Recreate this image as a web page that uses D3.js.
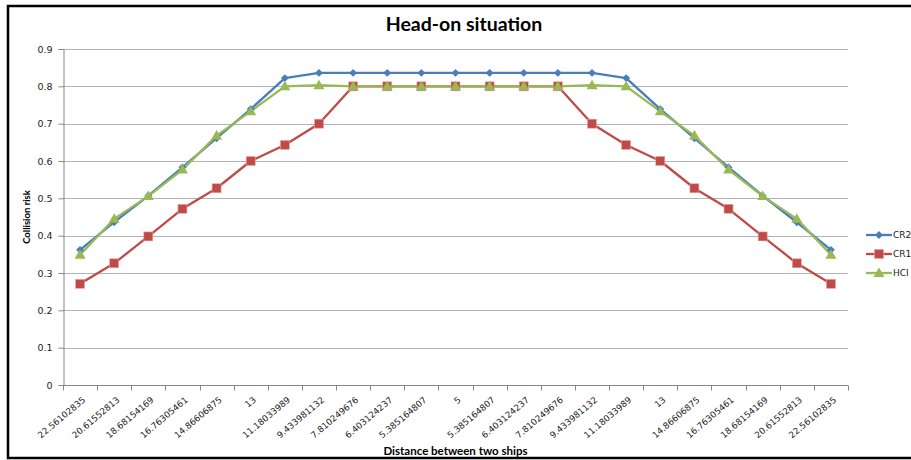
<!DOCTYPE html>
<html>
<head>
<meta charset="utf-8">
<script src="https://cdn.jsdelivr.net/npm/d3@7"></script>
<style>
  body { margin: 0; background: #fff; }
  svg { display: block; }
</style>
</head>
<body>
<svg id="chart"></svg>
<script>
const distances = ["22.56102835", "20.61552813", "18.68154169", "16.76305461", "14.86606875", "13",
  "11.18033989", "9.433981132", "7.810249676", "6.403124237", "5.385164807", "5",
  "5.385164807", "6.403124237", "7.810249676", "9.433981132", "11.18033989", "13",
  "14.86606875", "16.76305461", "18.68154169", "20.61552813", "22.56102835"];

const cr2 = [0.362, 0.436, 0.507, 0.583, 0.661, 0.739, 0.822, 0.836, 0.836, 0.836, 0.836, 0.836,
  0.836, 0.836, 0.836, 0.836, 0.822, 0.739, 0.661, 0.583, 0.507, 0.436, 0.362];
const cr1 = [0.271, 0.326, 0.398, 0.472, 0.527, 0.600, 0.643, 0.700, 0.800, 0.800, 0.800, 0.800,
  0.800, 0.800, 0.800, 0.700, 0.643, 0.600, 0.527, 0.472, 0.398, 0.326, 0.271];
const hci = [0.349, 0.445, 0.506, 0.577, 0.668, 0.733, 0.800, 0.803, 0.800, 0.800, 0.800, 0.800,
  0.800, 0.800, 0.800, 0.803, 0.800, 0.733, 0.668, 0.577, 0.506, 0.445, 0.349];
const yTicks = [0, 0.1, 0.2, 0.3, 0.4, 0.5, 0.6, 0.7, 0.8, 0.9];

const series = [
  { name: "CR2", values: cr2, color: "#4a7ebb", marker: "diamond" },
  { name: "CR1", values: cr1, color: "#be4b48", marker: "square" },
  { name: "HCI", values: hci, color: "#98b954", marker: "triangle" }
];

const width = 911, height = 460;
const plotL = 63, plotR = 848, plotT = 49, plotB = 385;

const svg = d3.select("svg#chart")
  .attr("width", width)
  .attr("height", height);

// outer frame (cut by the right edge)
svg.append("rect").attr("x", 8).attr("y", 6).attr("width", 930).attr("height", 452)
  .attr("fill", "none").attr("stroke", "#000").attr("stroke-width", 2.5);

const x = d3.scaleBand().domain(d3.range(distances.length)).range([plotL, plotR]);
const y = d3.scaleLinear().domain([0, 0.9]).range([plotB, plotT]);

// gridlines
svg.append("g")
  .selectAll("line").data(yTicks.filter(d => d > 0)).join("line")
  .attr("x1", plotL).attr("x2", plotR)
  .attr("y1", d => Math.round(y(d)) + 0.5).attr("y2", d => Math.round(y(d)) + 0.5)
  .attr("stroke", "#b3b3b3").attr("stroke-width", 1.2);

// y axis
const yAxis = svg.append("g").attr("transform", `translate(${plotL + 0.5},0)`)
  .call(d3.axisLeft(y).tickValues(yTicks).tickSize(5).tickPadding(6).tickFormat(d => d === 0 ? "0" : d3.format(".1f")(d)));
yAxis.select(".domain").attr("stroke", "#868686");
yAxis.selectAll(".tick line").attr("stroke", "#868686");
yAxis.selectAll(".tick text").attr("font-family", "DejaVu Sans").attr("font-size", 9.5).attr("fill", "#222");

// x axis: ticks on category boundaries
const xg = svg.append("g").attr("transform", `translate(0,${plotB + 0.5})`);
xg.append("line").attr("x1", plotL).attr("x2", plotR).attr("stroke", "#868686");
xg.selectAll("line.tk").data(d3.range(distances.length + 1)).join("line").attr("class", "tk")
  .attr("x1", i => Math.round(plotL + i * x.step()) + 0.5).attr("x2", i => Math.round(plotL + i * x.step()) + 0.5)
  .attr("y1", 0).attr("y2", 5).attr("stroke", "#868686");
xg.selectAll("text").data(distances).join("text")
  .attr("transform", (d, i) => `translate(${x(i) + x.bandwidth() / 2 + 4},${13}) rotate(-40)`)
  .attr("text-anchor", "end")
  .attr("dy", "0.35em")
  .attr("font-family", "DejaVu Sans").attr("font-size", 8.8).attr("fill", "#222")
  .text(d => d);

// lines and markers
const line = d3.line().x((d, i) => x(i) + x.bandwidth() / 2).y(d => y(d));

series.forEach(s => {
  svg.append("path").datum(s.values).attr("d", line)
    .attr("fill", "none").attr("stroke", s.color).attr("stroke-width", 2.3).attr("stroke-linejoin", "round");
});

function drawMarker(g, kind, color) {
  if (kind === "diamond") {
    g.append("path").attr("d", d3.symbol(d3.symbolDiamond2, 40)()).attr("fill", color);
  } else if (kind === "square") {
    g.append("rect").attr("x", -4.5).attr("y", -4.5).attr("width", 9).attr("height", 9)
      .attr("fill", color).attr("stroke", "#e8a8a6").attr("stroke-width", 0.6);
  } else {
    g.append("path").attr("d", "M0,-5.5L5.5,4L-5.5,4Z").attr("fill", color);
  }
}

series.forEach(s => {
  s.values.forEach((v, i) => {
    const g = svg.append("g").attr("transform", `translate(${x(i) + x.bandwidth() / 2},${y(v)})`);
    drawMarker(g, s.marker, s.color);
  });
});

// legend
const legend = svg.append("g").attr("transform", "translate(866,235)");
series.forEach((s, i) => {
  const g = legend.append("g").attr("transform", `translate(0,${i * 19})`);
  g.append("line").attr("x1", 0).attr("x2", 26).attr("stroke", s.color).attr("stroke-width", 2.3);
  const m = g.append("g").attr("transform", "translate(13,0)");
  drawMarker(m, s.marker, s.color);
  g.append("text").attr("x", 27).attr("dy", "0.35em")
    .attr("font-family", "DejaVu Sans").attr("font-size", 9).attr("fill", "#222").text(s.name);
});

// titles
svg.append("text").attr("x", 464).attr("y", 31).attr("text-anchor", "middle")
  .attr("font-family", "Lato").attr("font-weight", "bold").attr("font-size", 19.5).attr("fill", "#000")
  .text("Head-on situation");

svg.append("text").attr("transform", `translate(30,${(plotT + plotB) / 2}) rotate(-90)`)
  .attr("text-anchor", "middle")
  .attr("font-family", "Lato").attr("font-weight", "bold").attr("font-size", 9.5).attr("fill", "#000")
  .text("Collision risk");

svg.append("text").attr("x", (plotL + plotR) / 2).attr("y", 455).attr("text-anchor", "middle")
  .attr("font-family", "Lato").attr("font-weight", "bold").attr("font-size", 11.5).attr("fill", "#000")
  .text("Distance  between two ships");
</script>
</body>
</html>
